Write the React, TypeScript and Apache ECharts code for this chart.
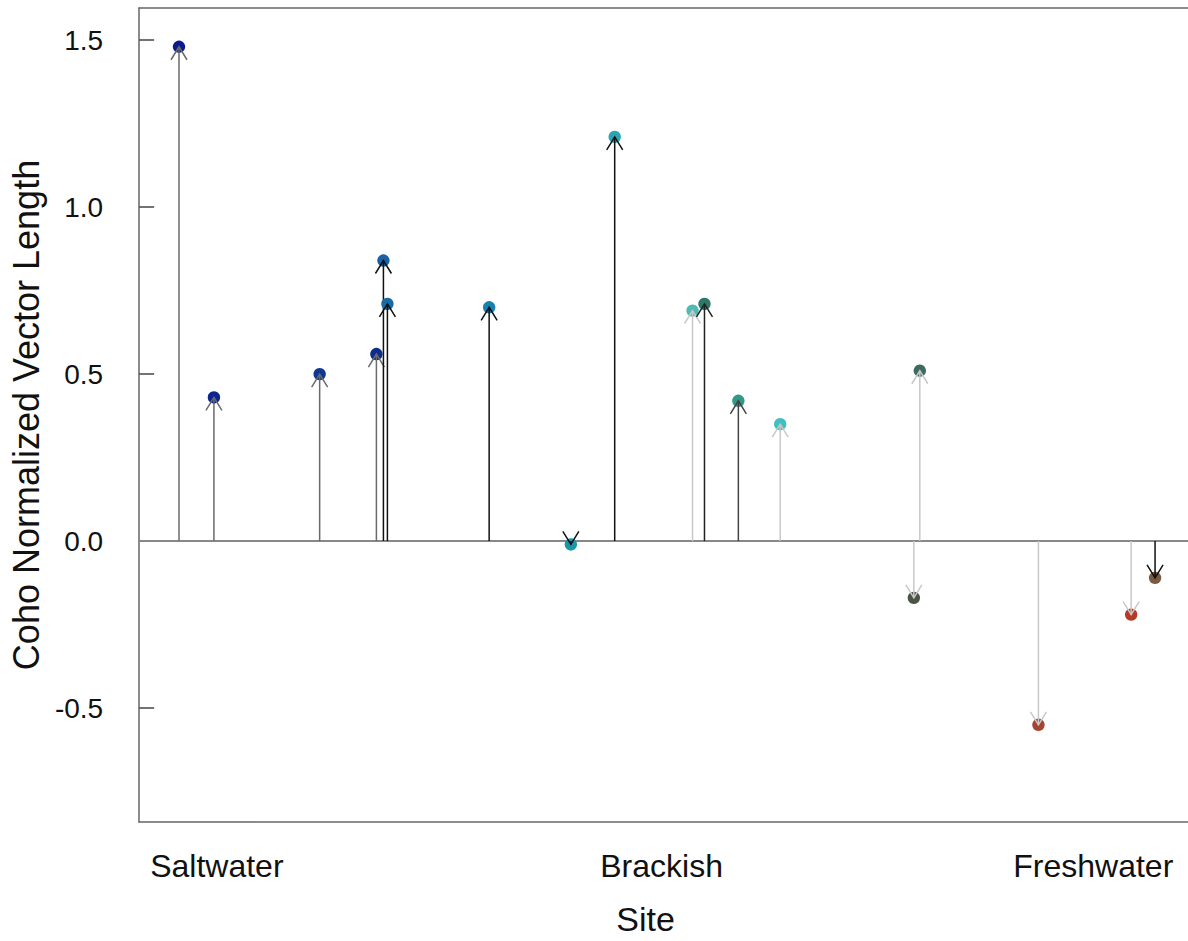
import React, { useEffect, useRef } from "react";
import * as echarts from "echarts";

// Site position along the salinity gradient (arbitrary 0-100 units)
const siteX = [3.8, 7.13, 17.21, 22.62, 23.29, 23.67, 33.37, 41.16, 45.34, 52.76, 53.9, 57.13, 61.12, 74.43, 73.86, 85.74, 94.58, 96.86];
// Coho normalized vector length
const vectorLength = [1.48, 0.43, 0.5, 0.56, 0.84, 0.71, 0.7, -0.01, 1.21, 0.69, 0.71, 0.42, 0.35, 0.51, -0.17, -0.55, -0.22, -0.11];
// Point colours
const pointColors = [
  "#0b1b8c", "#0c2490", "#0f3893", "#0d2d8e", "#1a62a8", "#1a6aa6", "#1a80b0", "#1a96a8", "#2aa6b0",
  "#52bab4", "#2e7868", "#2f9a88", "#42c0c0", "#3c6a5e", "#4a5546", "#a64432", "#b33b28", "#7a5a40",
];
// Arrow colours
const arrowColors = [
  "#6a6a6a", "#6a6a6a", "#6a6a6a", "#6a6a6a", "#111111", "#111111", "#111111", "#111111", "#111111",
  "#c8c8c8", "#222222", "#444444", "#c8c8c8", "#c8c8c8", "#c8c8c8", "#c8c8c8", "#c8c8c8", "#111111",
];
// x-axis site labels
const siteLabels = ["Saltwater", "Brackish", "Freshwater"];
const siteLabelX = [7.41, 49.81, 90.97];
// y-axis ticks
const yTicks = [-0.5, 0, 0.5, 1, 1.5];
const xRange = [0, 100];
const yRange = [-0.841, 1.596];
const zeroLine = [[xRange[0], 0], [xRange[1], 0]];

export default function App() {
  const ref = useRef<HTMLDivElement>(null);
  useEffect(() => {
    document.body.style.margin = "0";
    const chart = echarts.init(ref.current!, null, { renderer: "svg" });
    const font = "Liberation Sans, Arial, sans-serif";
    const frame = { color: "#666666", width: 1.5 };
    chart.setOption({
      animation: false,
      backgroundColor: "#ffffff",
      grid: { left: 135, top: 8, right: 0, bottom: 119, containLabel: false },
      xAxis: [
        {
          type: "value",
          min: xRange[0],
          max: xRange[1],
          position: "bottom",
          axisLine: { show: true, onZero: false, lineStyle: frame },
          axisTick: { show: false },
          splitLine: { show: false },
          axisLabel: {
            customValues: siteLabelX,
            formatter: (v: number) => {
              const i = siteLabelX.indexOf(v);
              return i >= 0 ? siteLabels[i] : "";
            },
            fontSize: 32,
            fontFamily: font,
            color: "#111111",
            margin: 28,
          },
          name: "Site",
          nameLocation: "middle",
          nameGap: 80,
          nameTextStyle: { fontSize: 34, fontFamily: font, color: "#111111", padding: [0, 36, 0, 0] },
        },
        {
          type: "value",
          min: xRange[0],
          max: xRange[1],
          position: "top",
          axisLine: { show: true, onZero: false, lineStyle: frame },
          axisTick: { show: false },
          axisLabel: { show: false },
          splitLine: { show: false },
        },
      ],
      yAxis: {
        type: "value",
        min: yRange[0],
        max: yRange[1],
        axisLine: { show: true, onZero: false, lineStyle: frame },
        axisTick: {
          show: true,
          inside: true,
          length: 15,
          customValues: yTicks,
          lineStyle: { color: "#444444", width: 1.5 },
        },
        splitLine: { show: false },
        axisLabel: {
          customValues: yTicks,
          formatter: (v: number) => v.toFixed(1),
          fontSize: 28,
          fontFamily: font,
          color: "#111111",
          margin: 36,
        },
        name: "Coho Normalized Vector Length",
        nameLocation: "middle",
        nameGap: 86,
        nameTextStyle: { fontSize: 36, fontFamily: font, color: "#111111" },
      },
      series: [
        {
          type: "line",
          data: zeroLine,
          symbol: "none",
          silent: true,
          lineStyle: { color: "#888888", width: 2 },
          z: 1,
        },
        {
          type: "custom",
          z: 5,
          data: siteX.map((x, i) => [x, vectorLength[i]]),
          renderItem: (params: any, api: any) => {
            const i = params.dataIndex;
            const x = api.value(0);
            const v = api.value(1);
            const p0 = api.coord([x, 0]);
            const p1 = api.coord([x, v]);
            const dir = v >= 0 ? 1 : -1;
            const stroke = arrowColors[i];
            return {
              type: "group",
              children: [
                {
                  type: "circle",
                  shape: { cx: p1[0], cy: p1[1], r: 6.2 },
                  style: { fill: pointColors[i], stroke: null },
                },
                {
                  type: "line",
                  shape: { x1: p0[0], y1: p0[1], x2: p1[0], y2: p1[1] },
                  style: { stroke, lineWidth: 1.5 },
                },
                {
                  type: "polyline",
                  shape: {
                    points: [
                      [p1[0] - 8, p1[1] + dir * 13],
                      [p1[0], p1[1]],
                      [p1[0] + 8, p1[1] + dir * 13],
                    ],
                  },
                  style: { stroke, lineWidth: 1.5, fill: null },
                },
              ],
            };
          },
        },
      ],
    });
    return () => chart.dispose();
  }, []);
  return <div ref={ref} style={{ width: 1188, height: 941 }} />;
}
